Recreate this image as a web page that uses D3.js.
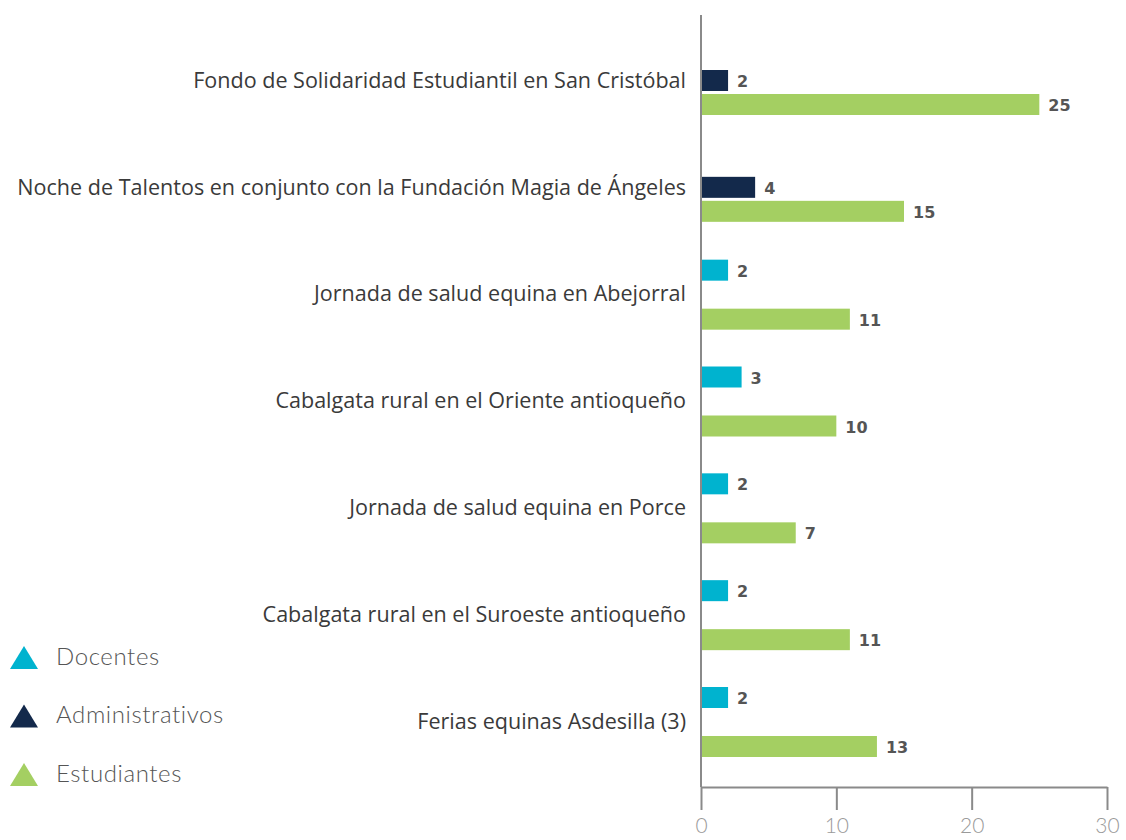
<!DOCTYPE html>
<html>
<head>
<meta charset="utf-8">
<script src="https://cdn.jsdelivr.net/npm/d3@7"></script>
<style>
  html, body { margin: 0; padding: 0; background: #fff; }
  svg { display: block; }
</style>
</head>
<body>
<svg id="chart" width="1126" height="840"></svg>
<script>
// Activities, top to bottom
const categories = [
  "Fondo de Solidaridad Estudiantil en San Cristóbal",
  "Noche de Talentos en conjunto con la Fundación Magia de Ángeles",
  "Jornada de salud equina en Abejorral",
  "Cabalgata rural en el Oriente antioqueño",
  "Jornada de salud equina en Porce",
  "Cabalgata rural en el Suroeste antioqueño",
  "Ferias equinas Asdesilla (3)"
];

// Participants per group (null = group not present in that activity)
const docentes        = [null, null, 2, 3, 2, 2, 2];
const administrativos = [2, 4, null, null, null, null, null];
const estudiantes     = [25, 15, 11, 10, 7, 11, 13];

const seriesNames = ["Docentes", "Administrativos", "Estudiantes"];
const xTicks = [0, 10, 20, 30];

const colors = {
  Docentes: "#00b3cf",
  Administrativos: "#13294b",
  Estudiantes: "#a4cf62"
};

const svg = d3.select("#chart");

const x = d3.scaleLinear().domain([0, 30]).range([701, 1107]);
const y = d3.scalePoint().domain(categories).range([82, 723]);

const barH = 21;

// Each activity shows its staff bar first, then the students bar
const rows = categories.map((c, i) => {
  const staffName = docentes[i] != null ? "Docentes" : "Administrativos";
  const staffVal = docentes[i] != null ? docentes[i] : administrativos[i];
  return { category: c, staffName, staffVal, students: estudiantes[i] };
});

const barData = [];
rows.forEach(r => {
  const cy = y(r.category);
  // administrative-staff pairs sit close together; teacher pairs are spread apart
  const tight = r.staffName === "Administrativos";
  const top1 = tight ? cy - 12 : cy - 36;
  const gap = tight ? 3 : 28;
  barData.push({ series: r.staffName, value: r.staffVal, top: top1 });
  barData.push({ series: "Estudiantes", value: r.students, top: top1 + barH + gap });
});

// Bars
svg.append("g").selectAll("rect")
  .data(barData)
  .join("rect")
  .attr("x", x(0) + 1)
  .attr("y", d => d.top)
  .attr("width", d => x(d.value) - x(0) - 1)
  .attr("height", barH)
  .attr("fill", d => colors[d.series]);

// Value labels
svg.append("g").selectAll("text")
  .data(barData)
  .join("text")
  .attr("x", d => x(d.value) + 9)
  .attr("y", d => d.top + barH / 2 + 2)
  .attr("dominant-baseline", "middle")
  .attr("font-family", "'DejaVu Sans', sans-serif")
  .attr("font-weight", "bold")
  .attr("font-size", 16)
  .attr("fill", "#555")
  .text(d => d.value);

// Category labels
const catLabels = svg.append("g").selectAll("text")
  .data(categories)
  .join("text")
  .attr("x", 686)
  .attr("y", d => y(d))
  .attr("text-anchor", "end")
  .attr("dominant-baseline", "middle")
  .attr("font-family", "'Open Sans', sans-serif")
  .attr("font-size", 20)
  .attr("fill", "#3a3a3a")
  .text(d => d);

// size the labels so the longest one starts near the left margin
const longest = d3.max(catLabels.nodes(), n => n.getComputedTextLength());
const catSize = 20 * 669 / longest;
catLabels.attr("font-size", catSize);

// Vertical category axis line
svg.append("line")
  .attr("x1", x(0)).attr("x2", x(0))
  .attr("y1", 15).attr("y2", 787)
  .attr("stroke", "#8a8a8a").attr("stroke-width", 2);

// Bottom value axis
const xAxis = d3.axisBottom(x).tickValues(xTicks).tickSize(23).tickPadding(8).tickSizeOuter(0);
const gx = svg.append("g").attr("transform", "translate(0,787)").call(xAxis);
gx.select(".domain").attr("stroke", "#8a8a8a").attr("stroke-width", 2);
gx.selectAll(".tick line").attr("stroke", "#8a8a8a").attr("stroke-width", 2);
gx.selectAll(".tick text")
  .attr("font-family", "Lato, sans-serif")
  .attr("font-weight", 300)
  .attr("font-size", 21)
  .attr("fill", "#9a9a9a");

// Legend
const legend = svg.append("g").selectAll("g")
  .data(seriesNames)
  .join("g")
  .attr("transform", (d, i) => `translate(24, ${658 + i * 58.5})`);

legend.append("path")
  .attr("d", "M0,-12 L14,11 L-14,11 Z")
  .attr("fill", d => colors[d]);

legend.append("text")
  .attr("x", 32)
  .attr("y", 1)
  .attr("dominant-baseline", "middle")
  .attr("font-family", "Lato, sans-serif")
  .attr("font-weight", 300)
  .attr("font-size", 24)
  .attr("letter-spacing", 0.6)
  .attr("fill", "#555")
  .text(d => d);
</script>
</body>
</html>
